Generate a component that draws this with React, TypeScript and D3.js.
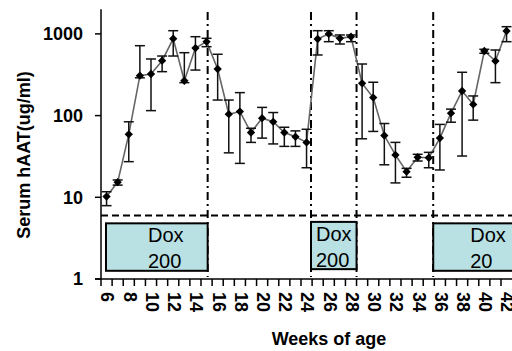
import { useEffect, useRef } from 'react';
import * as d3 from 'd3';

// week (mid-week sampling), mean, upper error, lower error (ug/ml)
const weeks = [6.5, 7.5, 8.5, 9.5, 10.5, 11.5, 12.5, 13.5, 14.5, 15.5, 16.5, 17.5, 18.5, 19.5, 20.5, 21.5, 22.5, 23.5, 24.5, 25.5, 26.5, 27.5, 28.5, 29.5, 30.5, 31.5, 32.5, 33.5, 34.5, 35.5, 36.5, 37.5, 38.5, 39.5, 40.5, 41.5, 42.5];
const means = [10.2, 15.3, 59, 308, 323, 470, 873, 267, 671, 803, 372, 104, 112, 62, 93, 84, 62, 55, 47, 866, 1000, 883, 924, 248, 166, 57, 33, 20.6, 30.9, 30.5, 53, 107, 200, 137, 618, 466, 1085];
const upper = [11.7, 16.3, 84, 717, 493, 536, 1094, 589, 924, 883, 563, 155, 191, 70, 126, 109, 72, 65, 68, 1094, 1094, 970, 970, 428, 256, 80, 47, 22.6, 33.6, 35.5, 78, 120, 339, 174, 648, 635, 1225];
const lower = [7.9, 14.1, 27.3, 290, 115, 345, 536, 253, 361, 697, 155, 35, 26, 47, 53, 45, 42, 42, 23, 552, 803, 752, 803, 52, 64, 25, 15, 17.6, 27.8, 23, 21.6, 83, 32, 88, 579, 253, 803];

// Dox treatment periods (weeks) and dose labels
const doxStart = [6.45, 24.9, 35.9];
const doxEnd = [15.6, 29.0, 45];
const doxDose = ['200', '200', '20'];
const switchWeeks = [15.6, 24.9, 29.0, 35.9];
const limitValue = 6;

const yTicks = [1, 10, 100, 1000];
const xTicks = d3.range(6, 43);
const xLabels = d3.range(6, 43, 2);

export default function App() {
  const svgRef = useRef<SVGSVGElement>(null);

  useEffect(() => {
    const width = 512;
    const height = 351;
    const svg = d3.select(svgRef.current);
    svg.selectAll('*').remove();

    const x = d3.scaleLinear().domain([6, 43]).range([101, 512.1]);
    const y = d3.scaleLog().domain([1, 2000]).range([279, 9.3]);
    const font = "'Liberation Sans', Arial, sans-serif";

    // dash-dot switch lines
    svg.append('g')
      .selectAll('line')
      .data(switchWeeks)
      .join('line')
      .attr('x1', d => x(d)).attr('x2', d => x(d))
      .attr('y1', 12).attr('y2', 277)
      .attr('stroke', '#000')
      .attr('stroke-width', 2)
      .attr('stroke-dasharray', '8,4,2,4');

    // detection limit
    svg.append('line')
      .attr('x1', x(6)).attr('x2', width)
      .attr('y1', y(limitValue)).attr('y2', y(limitValue))
      .attr('stroke', '#000')
      .attr('stroke-width', 2)
      .attr('stroke-dasharray', '7,4');

    // Dox boxes
    const boxes = doxStart.map((s, i) => ({ s, e: doxEnd[i], dose: doxDose[i] }));
    const textPad = [42, 5, 37];
    const bg = svg.append('g');
    bg.selectAll('rect')
      .data(boxes)
      .join('rect')
      .attr('x', d => x(d.s))
      .attr('width', d => x(d.e) - x(d.s))
      .attr('y', (d, i) => (i === 1 ? y(5.0) : y(4.8)))
      .attr('height', (d, i) => (i === 1 ? y(1.32) - y(5.0) : y(1.26) - y(4.8)))
      .attr('fill', '#B9E0E3')
      .attr('stroke', '#000')
      .attr('stroke-width', 2);
    boxes.forEach((b, i) => {
      const tx = x(b.s) + textPad[i];
      bg.append('text')
        .attr('x', tx).attr('y', i === 1 ? 241 : 242)
        .attr('font-family', font).attr('font-size', 20)
        .text('Dox');
      bg.append('text')
        .attr('x', tx).attr('y', i === 1 ? 267 : 268)
        .attr('font-family', font).attr('font-size', 20)
        .text(b.dose);
    });

    // axes
    const ax = svg.append('g').attr('stroke', '#000').attr('stroke-width', 1.5);
    ax.append('line').attr('x1', 101).attr('x2', 101).attr('y1', 9.3).attr('y2', 279);
    ax.append('line').attr('x1', 95).attr('x2', width).attr('y1', 279).attr('y2', 279);
    ax.selectAll('.yt').data(yTicks).join('line').attr('class', 'yt')
      .attr('x1', 95).attr('x2', 101).attr('y1', d => y(d)).attr('y2', d => y(d));
    ax.selectAll('.xt').data(xTicks).join('line').attr('class', 'xt')
      .attr('x1', d => x(d)).attr('x2', d => x(d)).attr('y1', 279).attr('y2', 286);

    svg.append('g')
      .selectAll('text')
      .data(yTicks)
      .join('text')
      .attr('x', 83).attr('y', d => y(d)).attr('dy', '0.36em')
      .attr('text-anchor', 'end')
      .attr('font-family', font).attr('font-size', 18).attr('font-weight', 'bold')
      .text(d => String(d));

    // rotated week labels, read top to bottom
    svg.append('g')
      .selectAll('text')
      .data(xLabels)
      .join('text')
      .attr('transform', d => `translate(${x(d) - 6},292) rotate(90)`)
      .attr('dy', '-0.36em')
      .attr('font-family', font).attr('font-size', 18).attr('font-weight', 'bold')
      .text(d => String(d));

    svg.append('text')
      .attr('x', 329).attr('y', 345)
      .attr('text-anchor', 'middle')
      .attr('font-family', font).attr('font-size', 18).attr('font-weight', 'bold')
      .text('Weeks of age');

    svg.append('text')
      .attr('transform', 'translate(30,155) rotate(-90)')
      .attr('text-anchor', 'middle')
      .attr('font-family', font).attr('font-size', 18).attr('font-weight', 'bold')
      .text('Serum hAAT(ug/ml)');

    // data
    const pts = weeks.map((w, i) => ({ w, m: means[i], hi: upper[i], lo: lower[i] }));
    const line = d3.line<{ w: number; m: number }>().x(d => x(d.w)).y(d => y(d.m));
    svg.append('path')
      .datum(pts)
      .attr('d', line)
      .attr('fill', 'none')
      .attr('stroke', '#666')
      .attr('stroke-width', 1.6);

    const eb = svg.append('g').attr('stroke', '#111').attr('stroke-width', 1.5);
    pts.forEach(p => {
      const cx = x(p.w);
      eb.append('line').attr('x1', cx).attr('x2', cx).attr('y1', y(p.hi)).attr('y2', y(p.lo));
      eb.append('line').attr('x1', cx - 5).attr('x2', cx + 5).attr('y1', y(p.hi)).attr('y2', y(p.hi));
      eb.append('line').attr('x1', cx - 5).attr('x2', cx + 5).attr('y1', y(p.lo)).attr('y2', y(p.lo));
    });

    const diamond = d3.symbol().type(d3.symbolDiamond2).size(44);
    svg.append('g')
      .selectAll('path')
      .data(pts)
      .join('path')
      .attr('transform', d => `translate(${x(d.w)},${y(d.m)})`)
      .attr('d', diamond)
      .attr('fill', '#000');

    svg.attr('width', width).attr('height', height);
  }, []);

  return (
    <div style={{ position: 'absolute', left: 0, top: 0, width: 512, height: 351, overflow: 'hidden', background: '#fff' }}>
      <svg ref={svgRef} style={{ display: 'block' }} />
    </div>
  );
}
